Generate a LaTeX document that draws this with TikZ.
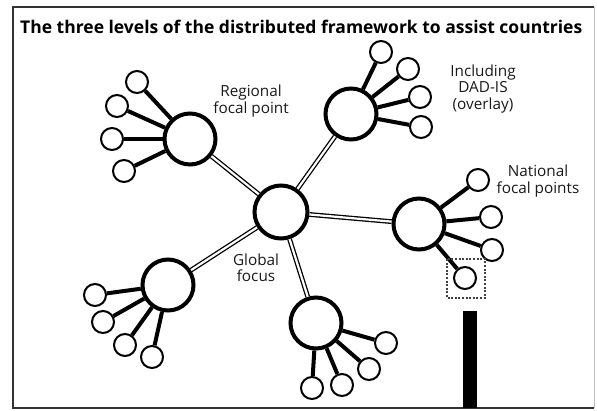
\documentclass[tikz,border=0pt]{standalone}
\usepackage{fontspec}
\setmainfont{Open Sans}
\begin{document}
\begin{tikzpicture}[x=1pt,y=-1pt,
  hub/.style={circle,draw=black,fill=white,line width=4pt,minimum size=51pt,inner sep=0pt},
  center/.style={circle,draw=black,fill=white,line width=4pt,minimum size=53pt,inner sep=0pt},
  leaf/.style={circle,draw=black,fill=white,line width=2pt,minimum size=22pt,inner sep=0pt},
  spoke/.style={line width=4pt,black},
  link/.style={double=white,double distance=2.2pt,line width=1.3pt,draw=black},
  lbl/.style={align=center,font=\fontsize{15.3}{16.5}\selectfont,text=black!90,inner sep=0pt}]
\useasboundingbox (0,0) rectangle (597,410);
% frame
\draw[line width=1.5pt,black!80] (594,7) -- (13,7) -- (13,408) -- (594,408);
\draw[line width=0.8pt,black!25] (594,7) -- (594,408);
% title
\node[anchor=base west,inner sep=0pt,font=\bfseries\fontsize{17.5}{20}\selectfont] (title) at (20,33) {The three levels of the distributed framework to assist countries};
% hubs
\node[center] (G) at (281,212) {};
\node[hub] (R1) at (190,139) {};
\node[hub] (R2) at (351,114) {};
\node[hub] (R3) at (419,224) {};
\node[hub] (R4) at (316,323) {};
\node[hub] (R5) at (168,285) {};
% links
\foreach \r in {R1,R2,R3,R4,R5} \draw[link] (G) -- (\r);
% leaves
\node[leaf] (a1) at (137,82) {};
\node[leaf] (a2) at (117,106) {};
\node[leaf] (a3) at (112,139) {};
\node[leaf] (a4) at (124,171) {};
\node[leaf] (b1) at (381,52) {};
\node[leaf] (b2) at (408,69) {};
\node[leaf] (b3) at (420,97) {};
\node[leaf] (b4) at (421,127) {};
\node[leaf] (c1) at (478,180) {};
\node[leaf] (c2) at (491,217) {};
\node[leaf] (c3) at (492,250) {};
\node[leaf] (c4) at (465,278) {};
\node[leaf] (d1) at (386,343) {};
\node[leaf] (d2) at (369,369) {};
\node[leaf] (d3) at (342,385) {};
\node[leaf] (d4) at (312,388) {};
\node[leaf] (e1) at (95,295) {};
\node[leaf] (e2) at (103,322) {};
\node[leaf] (e3) at (125,345) {};
\node[leaf] (e4) at (152,357) {};
\foreach \l in {a1,a2,a3,a4} \draw[spoke] (R1) -- (\l);
\foreach \l in {b1,b2,b3,b4} \draw[spoke] (R2) -- (\l);
\foreach \l in {c1,c2,c3,c4} \draw[spoke] (R3) -- (\l);
\foreach \l in {d1,d2,d3,d4} \draw[spoke] (R4) -- (\l);
\foreach \l in {e1,e2,e3,e4} \draw[spoke] (R5) -- (\l);
% dotted highlight box and bar
\draw[line width=1.2pt,black!75,dash pattern=on 2pt off 1.6pt] (447,259) rectangle (485,298);
\fill[black] (463,311) rectangle (477,408);
% labels
\node[lbl] (lreg) at (251,101) {Regional\\focal point};
\node[lbl] (linc) at (483,89) {Including\\DAD-IS\\(overlay)};
\node[lbl] (lnat) at (538,181) {National\\focal points};
\node[lbl] (lglo) at (256,268) {Global\\focus};
\end{tikzpicture}
\end{document}
